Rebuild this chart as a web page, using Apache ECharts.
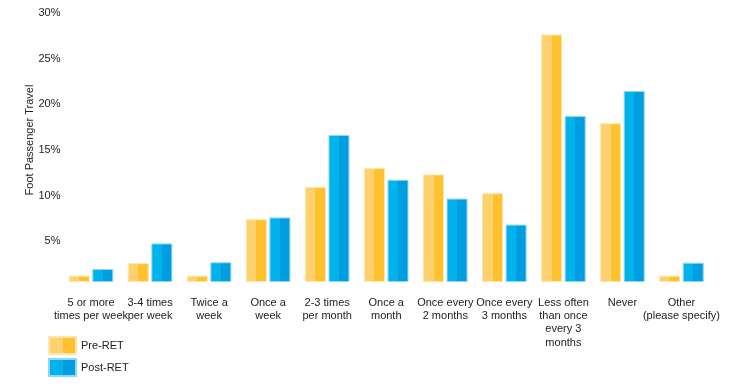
<!DOCTYPE html>
<html>
<head>
<meta charset="utf-8">
<script src="https://cdn.jsdelivr.net/npm/echarts@6/dist/echarts.min.js"></script>
<style>
html,body{margin:0;padding:0;background:#fff;}
#chart{width:738px;height:385px;}
</style>
</head>
<body>
<div id="chart"></div>
<script>
var categories = [
  "5 or more\ntimes per week",
  "3-4 times\nper week",
  "Twice a\nweek",
  "Once a\nweek",
  "2-3 times\nper month",
  "Once a\nmonth",
  "Once every\n2 months",
  "Once every\n3 months",
  "Less often\nthan once\nevery 3\nmonths",
  "Never",
  "Other\n(please specify)"
];
var preRET  = [0.7, 2.1, 0.7, 7.0, 10.6, 12.7, 12.0, 9.9, 27.6, 17.7, 0.7];
var postRET = [1.45, 4.3, 2.2, 7.2, 16.4, 11.4, 9.3, 6.4, 18.5, 21.3, 2.15];
var yTicks = [5, 10, 15, 20, 25, 30];
var yTitle = "Foot Passenger Travel";
var seriesNames = ['Pre-RET', 'Post-RET'];

var FONT = "Liberation Sans, Arial, sans-serif";
function twoTone(a, b) {
  return new echarts.graphic.LinearGradient(0, 0, 1, 0, [
    {offset: 0, color: a}, {offset: 0.5, color: a},
    {offset: 0.5, color: b}, {offset: 1, color: b}
  ]);
}
function legendFor(name, top) {
  return {
    orient: 'vertical', left: 48, top: top, itemWidth: 27, itemHeight: 17,
    padding: 0, icon: 'rect',
    textStyle: {fontFamily: FONT, fontSize: 11, color: '#222'},
    data: [name]
  };
}
var chart = echarts.init(document.getElementById('chart'), null, {renderer: 'canvas'});
chart.setOption({
  animation: false,
  backgroundColor: '#fff',
  grid: {left: 61.5, right: 27, top: 13, bottom: 98, containLabel: false},
  legend: [legendFor(seriesNames[0], 336), legendFor(seriesNames[1], 358)],
  xAxis: {
    type: 'category', data: categories,
    axisLine: {show: false}, axisTick: {show: false},
    splitLine: {show: false},
    axisLabel: {interval: 0, margin: 9, fontFamily: FONT, fontSize: 11, color: '#222', lineHeight: 13.3}
  },
  yAxis: [{
    type: 'value', min: 0, max: 30, interval: 5,
    axisLine: {show: false}, axisTick: {show: false}, splitLine: {show: false},
    axisLabel: {
      margin: 1, fontFamily: FONT, fontSize: 11, color: '#222',
      formatter: function (v) { return yTicks.indexOf(v) >= 0 ? v + '%' : ''; }
    }
  }, {
    type: 'value', min: -0.5576, max: 30, show: false, splitLine: {show: false}
  }],
  graphic: [{
    type: 'text', x: 30, y: 140, rotation: Math.PI / 2,
    style: {text: yTitle, font: '11px ' + FONT, fill: '#222', textAlign: 'center', textVerticalAlign: 'middle'}
  }],
  series: [{
    name: seriesNames[0], type: 'bar', yAxisIndex: 1, data: preRET,
    barWidth: 21, barGap: '12%',
    itemStyle: {color: twoTone('#FED16E', '#FEC22E'), borderColor: '#FFE6A8', borderWidth: 1}
  }, {
    name: seriesNames[1], type: 'bar', yAxisIndex: 1, data: postRET,
    barWidth: 21, barGap: '12%',
    itemStyle: {color: twoTone('#00B3EB', '#009EE0'), borderColor: '#8FD8F5', borderWidth: 1}
  }]
});
</script>
</body>
</html>
